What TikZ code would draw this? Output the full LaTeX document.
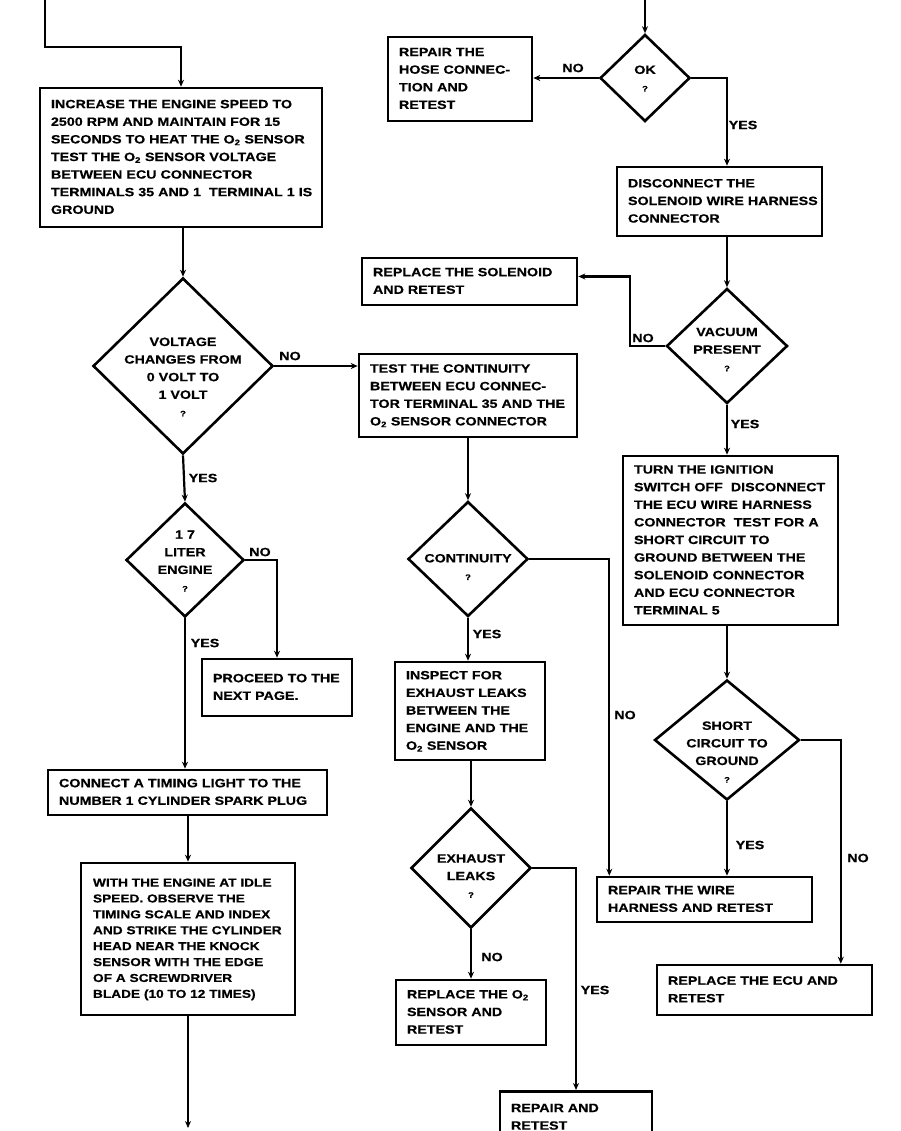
\documentclass[tikz,border=0pt]{standalone}
\usepackage{fontspec}
\setmainfont{Liberation Sans}[FakeStretch=1.19, FakeBold=0.5]
\usetikzlibrary{shapes.geometric,arrows.meta,calc}
\newcommand\qmark{{\fontsize{8}{8}\selectfont ?}}
\newcommand\Otwo{O\textsubscript{2}}
\newcommand\bt[1]{\begin{tabular}{@{}l@{}}#1\end{tabular}}
\begin{document}
\begin{tikzpicture}[x=1pt,y=-1pt,
  every node/.style={font=\bfseries\fontsize{12}{17.6}\selectfont},
  box/.style={draw, line width=2.6pt, rectangle, inner xsep=11pt, inner ysep=0pt, align=left},
  dia/.style={draw, diamond, line width=2.6pt, inner sep=0pt},
  lab/.style={inner sep=0pt},
  txt/.style={inner sep=0pt, align=center},
  conn/.style={line width=2.2pt, -{Stealth[length=7pt,width=6pt]}},
]
\useasboundingbox (0,0) rectangle (901,1131);

% ---------- boxes ----------
\node[box, minimum width=282pt, minimum height=139pt, text width=260pt] (b1) at (181,157.5)
 {\bt{INCREASE THE ENGINE SPEED TO\\2500 RPM AND MAINTAIN FOR 15\\SECONDS TO HEAT THE \Otwo{} SENSOR\\TEST THE \Otwo{} SENSOR VOLTAGE\\BETWEEN ECU CONNECTOR\\TERMINALS 35 AND 1\ \ TERMINAL 1 IS\\GROUND}};
\node[box, minimum width=144pt, minimum height=84pt, text width=122pt] (hose) at (460,79)
 {\bt{REPAIR THE\\HOSE CONNEC-\\TION AND\\RETEST}};
\node[box, minimum width=205pt, minimum height=69pt, text width=183pt] (disc) at (719.5,201.5)
 {\bt{DISCONNECT THE\\SOLENOID WIRE HARNESS\\CONNECTOR}};
\node[box, minimum width=215pt, minimum height=47pt, text width=193pt] (sol) at (469.5,281.5)
 {\bt{REPLACE THE SOLENOID\\AND RETEST}};
\node[box, minimum width=218pt, minimum height=83pt, text width=196pt] (test) at (468,395.5)
 {\bt{TEST THE CONTINUITY\\BETWEEN ECU CONNEC-\\TOR TERMINAL 35 AND THE\\\Otwo{} SENSOR CONNECTOR}};
\node[box, minimum width=215pt, minimum height=169pt, text width=193pt] (turn) at (730.5,540.5)
 {\bt{TURN THE IGNITION\\SWITCH OFF\ \ DISCONNECT\\THE ECU WIRE HARNESS\\CONNECTOR\ \ TEST FOR A\\SHORT CIRCUIT TO\\GROUND BETWEEN THE\\SOLENOID CONNECTOR\\AND ECU CONNECTOR\\TERMINAL 5}};
\node[box, minimum width=150pt, minimum height=57pt, text width=128pt] (proc) at (277,687.5)
 {\bt{PROCEED TO THE\\NEXT PAGE.}};
\node[box, minimum width=150pt, minimum height=98pt, text width=128pt] (insp) at (470,711)
 {\bt{INSPECT FOR\\EXHAUST LEAKS\\BETWEEN THE\\ENGINE AND THE\\\Otwo{} SENSOR}};
\node[box, minimum width=279pt, minimum height=45pt, text width=257pt] (conn) at (187.5,792.5)
 {\bt{CONNECT A TIMING LIGHT TO THE\\NUMBER 1 CYLINDER SPARK PLUG}};
\node[box, minimum width=215pt, minimum height=45pt, text width=193pt] (wire) at (704.5,899.5)
 {\bt{REPAIR THE WIRE\\HARNESS AND RETEST}};
\node[box, minimum width=214pt, minimum height=152pt, text width=190pt, inner xsep=12pt,
      font=\bfseries\fontsize{11.5}{15.9}\selectfont] (with) at (188,939)
 {\bt{WITH THE ENGINE AT IDLE\\SPEED. OBSERVE THE\\TIMING SCALE AND INDEX\\AND STRIKE THE CYLINDER\\HEAD NEAR THE KNOCK\\SENSOR WITH THE EDGE\\OF A SCREWDRIVER\\BLADE (10 TO 12 TIMES)}};
\node[box, minimum width=150pt, minimum height=65pt, text width=128pt] (ro2) at (471,1012.5)
 {\bt{REPLACE THE \Otwo\\SENSOR AND\\RETEST}};
\node[box, minimum width=215pt, minimum height=50pt, text width=193pt] (ecu) at (764.5,990)
 {\bt{REPLACE THE ECU AND\\RETEST}};
\node[box, minimum width=152pt, minimum height=64pt, text width=130pt, anchor=north] (rar) at (576,1090)
 {\bt{REPAIR AND\\RETEST\\[12pt]}};

% ---------- diamonds ----------
\node[dia, minimum width=90pt, minimum height=87pt] (ok) at (645,78) {};
\node[txt] (okt) at (645,78.5) {OK\\\qmark};
\node[dia, minimum width=121pt, minimum height=115pt] (vac) at (727,346) {};
\node[txt] (vact) at (727,349.5) {VACUUM\\PRESENT\\\qmark};
\node[dia, minimum width=145pt, minimum height=120pt] (sc) at (727,740) {};
\node[txt] (sct) at (727,752) {SHORT\\CIRCUIT TO\\GROUND\\\qmark};
\node[dia, minimum width=180pt, minimum height=176pt] (volt) at (183,366) {};
\node[txt] (voltt) at (183,377) {VOLTAGE\\CHANGES FROM\\0 VOLT TO\\1 VOLT\\\qmark};
\node[dia, minimum width=118pt, minimum height=114pt] (lit) at (185,560) {};
\node[txt] (litt) at (185,561) {1 7\\LITER\\ENGINE\\\qmark};
\node[dia, minimum width=120pt, minimum height=115pt] (cont) at (468,559) {};
\node[txt] (contt) at (468,567) {CONTINUITY\\\qmark};
\node[dia, minimum width=120pt, minimum height=120pt] (exh) at (471,868) {};
\node[txt] (exht) at (471,876) {EXHAUST\\LEAKS\\\qmark};

% ---------- free ends ----------
\coordinate (start1) at (45,0);
\coordinate (start2) at (645,0);
\coordinate (end1) at (190,1128);

% ---------- connectors ----------
\draw[conn] (start1) -- ++(0,47) -| (b1.north);
\draw[conn] (start2) -- (ok.north);
\draw[conn] (ok.west) -- (ok.west -| hose.east);
\draw[conn] (ok.east) -| (disc.north -| vac.north);
\draw[conn] (disc.south -| vac.north) -- (vac.north);
\draw[conn] (vac.west) -- ++(-35,0) |- ($(sol.east)+(0,-5)$);
\draw[conn] (vac.south) -- (turn.north -| vac.south);
\draw[conn] (turn.south -| sc.north) -- (sc.north);
\draw[conn] (sc.south) -- (wire.north -| sc.south);
\draw[conn] (sc.east) -- ++(40,0) coordinate (scr) -- (scr |- ecu.north);
\draw[conn] (b1.south -| volt.north) -- (volt.north);
\draw[conn] (volt.east) -- (volt.east -| test.west);
\draw[conn] (volt.south) -- (lit.north);
\draw[conn] (lit.east) -| (proc.north);
\draw[conn] (lit.south) -- (lit.south |- conn.north);
\draw[conn] (test.south -| cont.north) -- (cont.north);
\draw[conn] (cont.east) -- ++(80,0) coordinate (cr) -- (cr |- wire.north);
\draw[conn] (cont.south) -- (cont.south |- insp.north);
\draw[conn] (insp.south -| exh.north) -- (exh.north);
\draw[conn] (exh.south) -- (exh.south |- ro2.north);
\draw[conn] (exh.east) -| (rar.north);
\draw[conn] (conn.south -| with.north) -- (with.north);
\draw[conn] (with.south) -- (with.south |- end1);

% ---------- labels ----------
\node[lab] (l1) at (573,68) {NO};
\node[lab] (l2) at (743,125) {YES};
\node[lab] (l3) at (643,338) {NO};
\node[lab] (l4) at (745,424) {YES};
\node[lab] (l5) at (290,356) {NO};
\node[lab] (l6) at (203,478) {YES};
\node[lab] (l7) at (260,552) {NO};
\node[lab] (l8) at (205,643) {YES};
\node[lab] (l9) at (487,634) {YES};
\node[lab] (l10) at (625,715) {NO};
\node[lab] (l11) at (492,957) {NO};
\node[lab] (l12) at (595,990) {YES};
\node[lab] (l13) at (750,845) {YES};
\node[lab] (l14) at (858,858) {NO};
\end{tikzpicture}
\end{document}
